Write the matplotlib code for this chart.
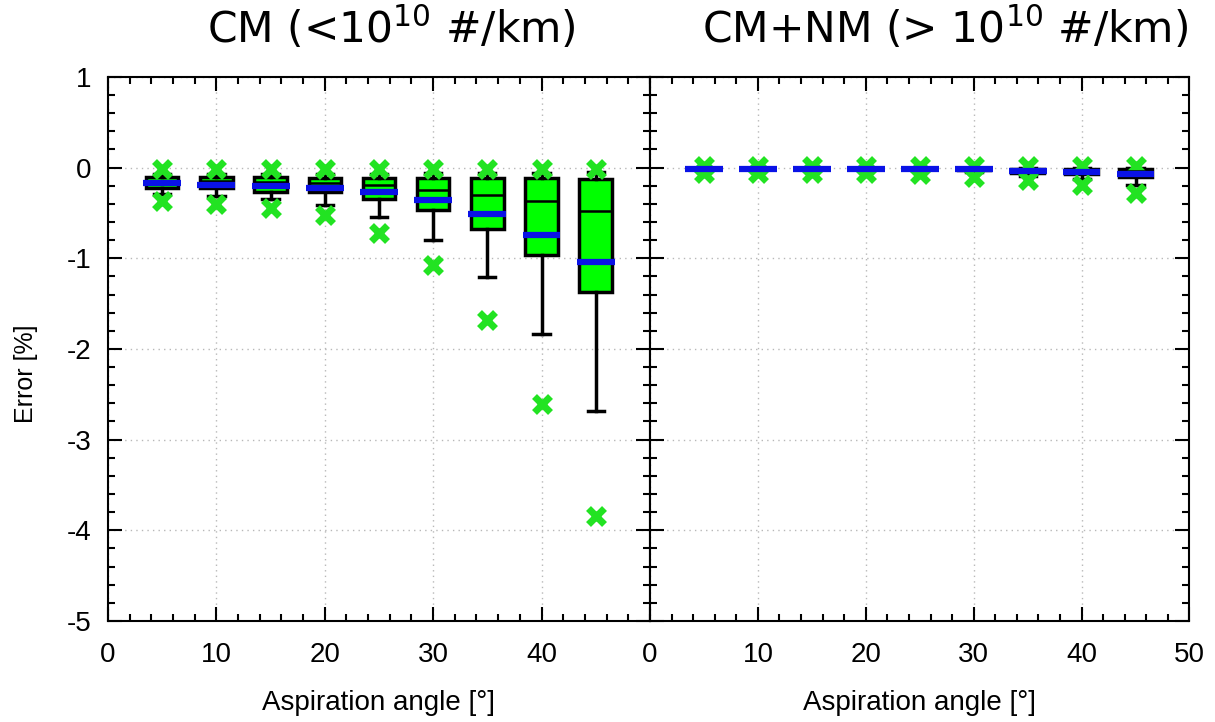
import matplotlib
matplotlib.use('Agg')
import matplotlib.pyplot as plt
from matplotlib.ticker import MultipleLocator

# aspiration angles [deg]
angles = [5, 10, 15, 20, 25, 30, 35, 40, 45]

# CM (< 1e10 #/km)
cm_max = [-0.02, -0.02, -0.02, -0.02, -0.02, -0.02, -0.02, -0.02, -0.02]
cm_whishi = [-0.07, -0.07, -0.07, -0.07, -0.07, -0.06, -0.06, -0.06, -0.05]
cm_q3 = [-0.10, -0.10, -0.10, -0.11, -0.11, -0.11, -0.11, -0.11, -0.12]
cm_med = [-0.15, -0.15, -0.16, -0.17, -0.19, -0.25, -0.30, -0.37, -0.48]
cm_mean = [-0.17, -0.19, -0.20, -0.22, -0.27, -0.36, -0.51, -0.74, -1.04]
cm_q1 = [-0.22, -0.23, -0.27, -0.27, -0.35, -0.47, -0.68, -0.96, -1.37]
cm_whislo = [-0.29, -0.31, -0.35, -0.41, -0.54, -0.80, -1.21, -1.83, -2.68]
cm_min = [-0.37, -0.40, -0.44, -0.52, -0.72, -1.07, -1.68, -2.61, -3.84]

# CM+NM (> 1e10 #/km)
nm_max = [0.02, 0.02, 0.02, 0.02, 0.02, 0.02, 0.02, 0.02, 0.02]
nm_whishi = [0.0, 0.0, 0.0, 0.0, 0.0, 0.0, 0.0, 0.0, 0.0]
nm_q3 = [-0.01, -0.01, -0.01, -0.01, -0.01, -0.01, -0.01, -0.01, -0.01]
nm_med = [-0.01, -0.01, -0.01, -0.01, -0.01, -0.02, -0.02, -0.03, -0.04]
nm_mean = [-0.01, -0.01, -0.01, -0.01, -0.01, -0.02, -0.04, -0.05, -0.07]
nm_q1 = [-0.01, -0.01, -0.01, -0.01, -0.02, -0.03, -0.06, -0.07, -0.10]
nm_whislo = [-0.02, -0.02, -0.02, -0.02, -0.03, -0.05, -0.09, -0.13, -0.19]
nm_min = [-0.06, -0.06, -0.06, -0.06, -0.07, -0.10, -0.14, -0.19, -0.28]

GREEN = '#00ff00'
XGREEN = '#22e322'
BLUE = '#0a12e6'


def make_stats(mx, whi, q3, med, mean, q1, wlo, mn):
    stats = []
    for i in range(len(angles)):
        stats.append(dict(med=med[i], q1=q1[i], q3=q3[i], mean=mean[i],
                          whislo=wlo[i], whishi=whi[i],
                          fliers=[mx[i], mn[i]]))
    return stats


def draw(ax, stats):
    ax.bxp(stats, positions=angles, widths=3.0, patch_artist=True,
           showmeans=True, meanline=True, manage_ticks=False,
           boxprops=dict(facecolor=GREEN, edgecolor='black', linewidth=2.5),
           medianprops=dict(color='black', linewidth=1.8),
           whiskerprops=dict(color='black', linewidth=2.5),
           capprops=dict(color='black', linewidth=2.5),
           meanprops=dict(color=BLUE, linewidth=4.5, linestyle='-'),
           flierprops=dict(marker='x', markersize=12, markeredgewidth=5,
                           markeredgecolor=XGREEN, linestyle='none'),
           zorder=3)
    # widen the mean lines a bit past the box
    for ln in ax.lines:
        if ln.get_color() == BLUE:
            x = ln.get_xdata()
            c = (x[0] + x[1]) / 2
            ln.set_xdata([c - 1.75, c + 1.75])
    ax.set_xlim(0, 50)
    ax.set_ylim(-5, 1)
    ax.xaxis.set_major_locator(MultipleLocator(10))
    ax.xaxis.set_minor_locator(MultipleLocator(2))
    ax.yaxis.set_major_locator(MultipleLocator(1))
    ax.yaxis.set_minor_locator(MultipleLocator(0.2))
    ax.tick_params(which='both', direction='in', top=True, right=True,
                   width=1.5, labelsize=20)
    ax.tick_params(axis='x', which='major', pad=15)
    ax.tick_params(axis='y', which='major', pad=12)
    ax.tick_params(which='major', length=10)
    ax.tick_params(which='minor', length=5)
    ax.grid(True, which='major', color='#b8b8b8', linestyle=(0, (1, 3)), linewidth=1)
    ax.set_axisbelow(True)
    for s in ax.spines.values():
        s.set_linewidth(1.5)
    ax.set_xlabel('Aspiration angle [°]', fontsize=20, labelpad=16)


plt.rcParams['font.family'] = ['Liberation Sans', 'DejaVu Sans']
plt.rcParams['axes.unicode_minus'] = False

fig = plt.figure(figsize=(12.15, 7.22), dpi=100)
ax1 = fig.add_axes([0.0889, 0.140, 0.446, 0.7534])
ax2 = fig.add_axes([0.535, 0.140, 0.444, 0.7534], sharey=ax1)

draw(ax1, make_stats(cm_max, cm_whishi, cm_q3, cm_med, cm_mean, cm_q1, cm_whislo, cm_min))
draw(ax2, make_stats(nm_max, nm_whishi, nm_q3, nm_med, nm_mean, nm_q1, nm_whislo, nm_min))

ax1.set_xticks([0, 10, 20, 30, 40])
ax1.set_xticks(range(0, 51, 2), minor=True)
ax1.set_ylabel('Error [%]', fontsize=18)
ax1.yaxis.set_label_coords(-0.13, 0.455)
ax2.tick_params(labelleft=False)

fig.text(0.322, 0.9404, r'CM (<10$^{10}$ #/km)', fontsize=30.5, ha='center', va='baseline',
         family='DejaVu Sans')
fig.text(0.778, 0.9404, r'CM+NM (> 10$^{10}$ #/km)', fontsize=30.5, ha='center', va='baseline',
         family='DejaVu Sans')

fig.savefig('out.png', dpi=100)
